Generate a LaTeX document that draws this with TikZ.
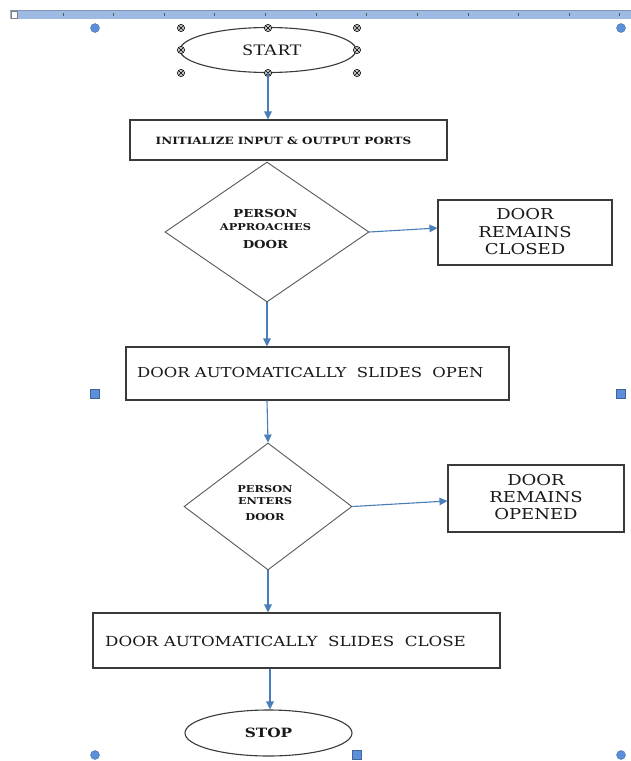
\documentclass[tikz,border=0pt]{standalone}
\usepackage{fontspec}
\setmainfont[FakeStretch=1.2]{DejaVu Serif}
\newfontfamily\startfont[FakeStretch=1.22]{Liberation Serif}
\usetikzlibrary{shapes.geometric,arrows.meta}
\definecolor{arrowblue}{HTML}{4A7EBB}
\definecolor{rulerblue}{HTML}{9DBAE3}
\definecolor{handleblue}{HTML}{5B8FD9}
\definecolor{edgegray}{HTML}{3A3A3A}
\tikzset{
  boxnode/.style={draw=edgegray, line width=1.1pt, rectangle, inner sep=0pt},
  decnode/.style={draw=edgegray!85, line width=0.9pt, diamond, inner sep=0pt},
  termnode/.style={draw=edgegray, line width=1.1pt, ellipse, inner sep=0pt},
  txt/.style={inner sep=0pt, align=center, text=black!90},
  flow/.style={draw=arrowblue, line width=1.1pt, -{Triangle[length=8pt,width=7.5pt]}},
  roundhandle/.style={fill=handleblue, draw=handleblue!70!black, line width=0.3pt},
}
\begin{document}
\begin{tikzpicture}[x=1pt,y=-1pt]
\useasboundingbox (0,0) rectangle (631,761);
\fill[white] (0,0) rectangle (631,761);
% ruler
\fill[rulerblue] (10,10) rectangle (631,19);
\draw[rulerblue!80!black, line width=0.4pt] (10,10) -- (631,10);
\draw[fill=white, draw=gray, line width=0.5pt] (11,11) rectangle (17,18);
\foreach \t in {63,113,164,214,265,316,366,417,468,518,569,619}
  \draw[gray!70!black, line width=0.8pt] (\t,13) -- (\t,16);
% blue selection handles
\foreach \a/\b in {95/28,621/28,95/755,621/755}
  \fill[roundhandle] (\a,\b) circle (4.5);
\foreach \a/\b in {95/394,621/394,357/755}
  \fill[roundhandle] (\a-4.5,\b-4.5) rectangle (\a+4.5,\b+4.5);

% shapes
\node[termnode, minimum width=176pt, minimum height=45pt] (start) at (268,50) {};
\node[boxnode, minimum width=317pt, minimum height=40pt] (init) at (288.5,140) {};
\node[decnode, minimum width=204pt, minimum height=140pt] (dec1) at (267,232) {};
\node[boxnode, minimum width=174pt, minimum height=65pt] (closed) at (525,232.5) {};
\node[boxnode, minimum width=383pt, minimum height=53pt] (open) at (317.5,373.5) {};
\node[decnode, minimum width=168pt, minimum height=127pt] (dec2) at (268,506.5) {};
\node[boxnode, minimum width=176pt, minimum height=67pt] (opened) at (536,498.5) {};
\node[boxnode, minimum width=407pt, minimum height=55pt] (close) at (296.5,640.5) {};
\node[termnode, minimum width=167pt, minimum height=46pt] (stop) at (268.5,733) {};

% texts
\node[txt, font={\startfont\fontsize{16}{16}\selectfont}] (starttext) at (272,50) {START};
\node[txt, font={\fontsize{10}{10}\selectfont\bfseries}] (inittext) at (283.5,140.5) {INITIALIZE INPUT \& OUTPUT PORTS};
\node[txt, font={\fontsize{11}{13}\selectfont\bfseries}] (dec1text) at (265.5,228.5)
  {PERSON\\{\fontsize{9.5}{13}\selectfont APPROACHES}\\[5pt]DOOR};
\node[txt, font={\fontsize{15}{17.5}\selectfont}] (closedtext) at (525,232) {DOOR\\REMAINS\\CLOSED};
\node[txt, anchor=west, font={\fontsize{13.7}{14}\selectfont}] (opentext) at (137,372.7) {DOOR AUTOMATICALLY\ \ SLIDES\ \ OPEN};
\node[txt, font={\fontsize{9.5}{12}\selectfont\bfseries}] (dec2text) at (265,503.5) {PERSON\\ENTERS\\[4pt]DOOR};
\node[txt, font={\fontsize{15}{17}\selectfont}] (openedtext) at (536,497) {DOOR\\REMAINS\\OPENED};
\node[txt, anchor=west, font={\fontsize{13.9}{14}\selectfont}] (closetext) at (105,641) {DOOR AUTOMATICALLY\ \ SLIDES\ \ CLOSE};
\node[txt, font={\fontsize{12.8}{13}\selectfont\bfseries}] (stoptext) at (268.5,733) {STOP};

% start handles
\foreach \a/\b in {181/28,268/28,357/28,181/50,357/50,181/73,268/73,357/73} {
  \draw[fill=gray!40, draw=black, line width=0.6pt] (\a,\b) circle (3.6);
  \draw[black, line width=0.6pt] (\a-2.5,\b-2.5) -- (\a+2.5,\b+2.5) (\a-2.5,\b+2.5) -- (\a+2.5,\b-2.5);
}

% connectors
\draw[flow] (start.south) -- (init.north -| start.south);
\draw[flow] (dec1.east) -- (closed.west |- 0,228);
\draw[flow] (dec1.south) -- (open.north -| dec1.south);
\draw[flow] (open.south -| dec1.south) -- (dec2.north);
\draw[flow] (dec2.east) -- (opened.west |- 0,501);
\draw[flow] (dec2.south) -- (close.north -| dec2.south);
\draw[flow] (close.south -| 270,0) -- (stop.north -| 270,0);
\end{tikzpicture}
\end{document}
